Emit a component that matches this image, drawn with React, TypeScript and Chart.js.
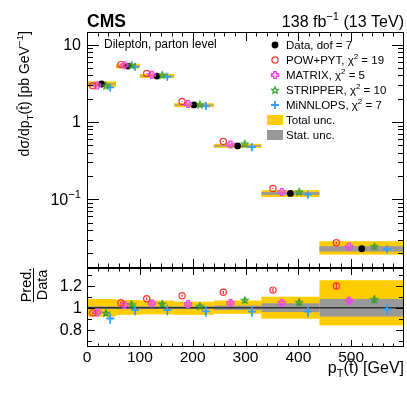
import React, { useEffect, useRef } from 'react';
import { Chart, registerables } from 'chart.js';
Chart.register(...registerables);

// ---------------- data ----------------
const binEdges = [0, 55, 100, 165, 240, 330, 440, 600];
const dataXsec = [3.1, 5.29, 3.93, 1.66, 0.49, 0.119, 0.0229];
const totalUncUp = [0.08, 0.07, 0.065, 0.055, 0.065, 0.1, 0.25];
const totalUncDown = [0.08, 0.065, 0.06, 0.065, 0.055, 0.1, 0.16];
const statUnc = [0.012, 0.012, 0.012, 0.012, 0.02, 0.04, 0.08];

const ratioPow = [0.952, 1.045, 1.082, 1.109, 1.14, 1.16, 1.197];
const ratioMatrix = [0.957, 1.025, 1.04, 1.034, 1.045, 1.045, 1.064];
const ratioStripper = [0.953, 1.031, 1.036, 1.015, 1.07, 1.05, 1.077];
const ratioMinnlo = [0.902, 0.979, 0.979, 0.967, 0.964, 0.964, 0.985];

const errPow = [0.01, 0.01, 0.01, 0.01, 0.015, 0.02, 0.03];
const errMatrix = [0.02, 0.02, 0.02, 0.02, 0.02, 0.02, 0.03];
const errStripper = [0.025, 0.025, 0.025, 0.025, 0.025, 0.03, 0.035];
const errMinnlo = [0.05, 0.05, 0.05, 0.05, 0.05, 0.05, 0.05];

const xTickValues = [0, 100, 200, 300, 400, 500];
const xTickLabels = ['0', '100', '200', '300', '400', '500'];
const mainTickValues = [0.1, 1, 10];
const mainTickBase = ['10', '1', '10'];
const mainTickExp = ['\u22121', '', ''];
const ratioTickValues = [0.8, 1, 1.2];
const ratioTickLabels = ['0.8', '1', '1.2'];

const legendNames = ['POW+PYT', 'MATRIX', 'STRIPPER', 'MiNNLOPS'];
const legendChi2 = ['19', '5', '10', '7'];
const dataLegend = 'Data, dof = 7';

// ---------------- layout / style ----------------
const FONT = '"Liberation Sans", Arial, Helvetica, sans-serif';
const W = 407;
const MAIN_H = 270;
const RATIO_TOP = 266;
const RATIO_H = 128;
const LEFT = 87;
const RIGHT_PAD = 3;
const YELLOW = '#ffcc00';
const GREY = '#999999';

const colors = ['#ff3333', '#ee44ee', '#2e9e2e', '#33a0ff'];
const offsets = [-0.3, -0.15, 0.15, 0.3];
const ratios = [ratioPow, ratioMatrix, ratioStripper, ratioMinnlo];
const errs = [errPow, errMatrix, errStripper, errMinnlo];

const centers = binEdges.slice(0, -1).map((e, i) => (e + binEdges[i + 1]) / 2);
const widths = binEdges.slice(0, -1).map((e, i) => binEdges[i + 1] - e);

function makeStar(color: string) {
  const c = document.createElement('canvas');
  c.width = 10; c.height = 10;
  const g = c.getContext('2d')!;
  g.strokeStyle = color; g.lineWidth = 1.2;
  g.beginPath();
  for (let k = 0; k < 10; k++) {
    const r = k % 2 === 0 ? 3.6 : 1.6;
    const a = -Math.PI / 2 + (k * Math.PI) / 5;
    const px = 5 + r * Math.cos(a), py = 5.4 + r * Math.sin(a);
    if (k) g.lineTo(px, py); else g.moveTo(px, py);
  }
  g.closePath(); g.stroke();
  return c;
}
function makeOpenCross(color: string) {
  const c = document.createElement('canvas');
  c.width = 10; c.height = 10;
  const g = c.getContext('2d')!;
  g.strokeStyle = color; g.lineWidth = 1.4;
  const a = 1.3, L = 3.4, o = 5;
  const pts = [[-a, -L], [a, -L], [a, -a], [L, -a], [L, a], [a, a], [a, L], [-a, L], [-a, a], [-L, a], [-L, -a], [-a, -a]];
  g.beginPath();
  pts.forEach((p, i) => (i ? g.lineTo(o + p[0], o + p[1]) : g.moveTo(o + p[0], o + p[1])));
  g.closePath(); g.stroke();
  return c;
}

type Part = { t: string; s?: number; dy?: number; bar?: boolean; bold?: boolean };
function drawRich(ctx: CanvasRenderingContext2D, parts: Part[], x: number, y: number, size: number, align: 'left' | 'right' | 'center') {
  const fontFor = (p: Part) => `${p.bold ? 'bold ' : ''}${(p.s ?? 1) * size}px ${FONT}`;
  let total = 0;
  const ws = parts.map((p) => { ctx.font = fontFor(p); const w = ctx.measureText(p.t).width; total += w; return w; });
  let cx = align === 'left' ? x : align === 'right' ? x - total : x - total / 2;
  ctx.textAlign = 'left';
  ctx.textBaseline = 'alphabetic';
  parts.forEach((p, i) => {
    ctx.font = fontFor(p);
    const yy = y + (p.dy ?? 0) * size;
    ctx.fillText(p.t, cx, yy);
    if (p.bar) {
      const s = (p.s ?? 1) * size;
      ctx.save();
      ctx.lineWidth = Math.max(1, s * 0.07);
      ctx.strokeStyle = ctx.fillStyle as string;
      ctx.beginPath();
      ctx.moveTo(cx + ws[i] * 0.05, yy - s * 0.86);
      ctx.lineTo(cx + ws[i] * 0.95, yy - s * 0.86);
      ctx.stroke();
      ctx.restore();
    }
    cx += ws[i];
  });
}

function drawFrameTicks(ctx: CanvasRenderingContext2D, chart: any, opts: { xMaj: number; xMin: number; yTicks: { v: number; len: number }[] }) {
  const a = chart.chartArea;
  const xs = chart.scales.x, ys = chart.scales.y;
  ctx.save();
  ctx.strokeStyle = '#000';
  ctx.lineWidth = 1;
  ctx.beginPath();
  for (let v = 0; v <= 600; v += 20) {
    const px = Math.round(xs.getPixelForValue(v)) + 0.5;
    if (px < a.left || px > a.right) continue;
    const len = v % 100 === 0 ? opts.xMaj : opts.xMin;
    ctx.moveTo(px, a.bottom); ctx.lineTo(px, a.bottom - len);
    ctx.moveTo(px, a.top); ctx.lineTo(px, a.top + len);
  }
  opts.yTicks.forEach((t) => {
    const py = Math.round(ys.getPixelForValue(t.v)) + 0.5;
    if (py < a.top || py > a.bottom) return;
    ctx.moveTo(a.left, py); ctx.lineTo(a.left + t.len, py);
    ctx.moveTo(a.right, py); ctx.lineTo(a.right - t.len, py);
  });
  ctx.stroke();
  ctx.strokeRect(a.left + 0.5, a.top + 0.5, a.right - a.left - 1, a.bottom - a.top - 1);
  ctx.restore();
}

function drawErrorBars(ctx: CanvasRenderingContext2D, chart: any, values: (s: number, i: number) => number, scaleErr: (v: number, e: number, up: boolean) => number) {
  const xs = chart.scales.x, ys = chart.scales.y;
  ctx.save();
  ctx.lineWidth = 1.3;
  ratios.forEach((_, s) => {
    ctx.strokeStyle = colors[s];
    ctx.beginPath();
    centers.forEach((c, i) => {
      const v = values(s, i);
      const px = xs.getPixelForValue(c + offsets[s] * widths[i]);
      ctx.moveTo(px, ys.getPixelForValue(scaleErr(v, errs[s][i], true)));
      ctx.lineTo(px, ys.getPixelForValue(scaleErr(v, errs[s][i], false)));
    });
    ctx.stroke();
  });
  ctx.restore();
}

export default function App() {
  const mainRef = useRef<HTMLCanvasElement>(null);
  const ratioRef = useRef<HTMLCanvasElement>(null);

  useEffect(() => {
    const starImg = makeStar(colors[2]);
    const crossImg = makeOpenCross(colors[1]);
    const pointStyles: any[] = ['circle', crossImg, starImg, 'cross'];
    const radii = [3.1, 4, 4, 4];
    const borders = [1.2, 1, 1, 1.8];

    const makeDatasets = (yOf: (s: number, i: number) => number) => {
      const ds: any[] = ratios.map((r, s) => ({
        label: legendNames[s],
        data: centers.map((c, i) => ({ x: c + offsets[s] * widths[i], y: yOf(s, i) })),
        pointStyle: pointStyles[s],
        pointRadius: radii[s],
        borderColor: colors[s],
        backgroundColor: 'rgba(0,0,0,0)',
        borderWidth: borders[s],
        showLine: false,
      }));
      return ds;
    };

    const mainDatasets = makeDatasets((s, i) => ratios[s][i] * dataXsec[i]);
    mainDatasets.push({
      label: 'Data',
      data: centers.map((c, i) => ({ x: c, y: dataXsec[i] })),
      pointStyle: 'circle', pointRadius: 3.4, borderWidth: 0,
      backgroundColor: '#000', borderColor: '#000', showLine: false,
    });

    const logTicks: { v: number; len: number }[] = [];
    for (let d = -2; d <= 1; d++) for (let k = 1; k <= 9; k++) logTicks.push({ v: k * Math.pow(10, d), len: k === 1 ? 12 : 6 });

    const mainPlugin = {
      id: 'mainDecor',
      beforeDatasetsDraw(chart: any) {
        const ctx = chart.ctx; const a = chart.chartArea;
        const xs = chart.scales.x, ys = chart.scales.y;
        ctx.save();
        ctx.beginPath(); ctx.rect(a.left, a.top, a.right - a.left, a.bottom - a.top); ctx.clip();
        centers.forEach((_, i) => {
          const x0 = xs.getPixelForValue(binEdges[i]), x1 = xs.getPixelForValue(binEdges[i + 1]);
          const d = dataXsec[i];
          let y0 = ys.getPixelForValue(d * (1 + totalUncUp[i])), y1 = ys.getPixelForValue(d * (1 - totalUncDown[i]));
          ctx.fillStyle = YELLOW; ctx.fillRect(x0, y0, x1 - x0, y1 - y0);
          y0 = ys.getPixelForValue(d * (1 + statUnc[i])); y1 = ys.getPixelForValue(d * (1 - statUnc[i]));
          ctx.fillStyle = GREY; ctx.fillRect(x0, y0, x1 - x0, Math.max(1, y1 - y0));
        });
        ctx.restore();
        drawErrorBars(ctx, chart, (s, i) => ratios[s][i] * dataXsec[i], (v, e, up) => (up ? v * (1 + e) : v * (1 - e)));
      },
      afterDatasetsDraw(chart: any) {
        const ctx = chart.ctx; const a = chart.chartArea;
        const ys = chart.scales.y;
        drawFrameTicks(ctx, chart, { xMaj: 9, xMin: 4.5, yTicks: logTicks });
        ctx.save();
        ctx.fillStyle = '#000';
        // y tick labels
        mainTickValues.forEach((v, i) => {
          const py = ys.getPixelForValue(v) + 5.5;
          const parts: Part[] = [{ t: mainTickBase[i] }];
          if (mainTickExp[i]) parts.push({ t: mainTickExp[i], s: 0.7, dy: -0.45 });
          drawRich(ctx, parts, 81, py, 16, 'right');
        });
        // y title
        ctx.save();
        ctx.translate(29, 31);
        ctx.rotate(-Math.PI / 2);
        drawRich(ctx, [
          { t: 'd\u03c3/dp' }, { t: 'T', s: 0.7, dy: 0.28 }, { t: '(' }, { t: 't', bar: true }, { t: ') [pb GeV' },
          { t: '\u22121', s: 0.7, dy: -0.42 }, { t: ']' },
        ], 0, 0, 14, 'right');
        ctx.restore();
        // header
        drawRich(ctx, [{ t: 'CMS', bold: true }], a.left, 27, 17.5, 'left');
        drawRich(ctx, [{ t: '138 fb' }, { t: '\u22121', s: 0.7, dy: -0.42 }, { t: ' (13 TeV)' }], 404, 27, 16, 'right');
        drawRich(ctx, [{ t: 'Dilepton, parton level' }], 104, 48, 12, 'left');
        // legend
        const lx = 275, tx = 286, fs = 11.5;
        const rows = [45, 60, 75, 90, 105, 120, 135];
        ctx.fillStyle = '#000';
        ctx.beginPath(); ctx.arc(lx, rows[0], 3.4, 0, Math.PI * 2); ctx.fill();
        drawRich(ctx, [{ t: dataLegend }], tx, rows[0] + 4.2, fs, 'left');
        legendNames.forEach((n, s) => {
          const y = rows[s + 1];
          if (s === 0) {
            ctx.save(); ctx.strokeStyle = colors[0]; ctx.lineWidth = 1.2;
            ctx.beginPath(); ctx.arc(lx, y, 3.1, 0, Math.PI * 2); ctx.stroke(); ctx.restore();
          } else if (s === 1) ctx.drawImage(crossImg, lx - 5, y - 5);
          else if (s === 2) ctx.drawImage(starImg, lx - 5, y - 5);
          else {
            ctx.save(); ctx.strokeStyle = colors[3]; ctx.lineWidth = 1.8;
            ctx.beginPath(); ctx.moveTo(lx - 4, y); ctx.lineTo(lx + 4, y); ctx.moveTo(lx, y - 4); ctx.lineTo(lx, y + 4); ctx.stroke(); ctx.restore();
          }
          ctx.fillStyle = '#000';
          drawRich(ctx, [{ t: n + ', \u03c7' }, { t: '2', s: 0.7, dy: -0.42 }, { t: ' = ' + legendChi2[s] }], tx, y + 4.2, fs, 'left');
        });
        ctx.fillStyle = YELLOW; ctx.fillRect(267, rows[5] - 5, 16, 10);
        ctx.fillStyle = GREY; ctx.fillRect(267, rows[6] - 5, 16, 10);
        ctx.fillStyle = '#000';
        drawRich(ctx, [{ t: 'Total unc.' }], tx, rows[5] + 4.2, fs, 'left');
        drawRich(ctx, [{ t: 'Stat. unc.' }], tx, rows[6] + 4.2, fs, 'left');
        ctx.restore();
      },
    };

    const ratioTicks: { v: number; len: number }[] = [];
    [0.7, 0.8, 0.9, 1.0, 1.1, 1.2, 1.3].forEach((v, k) => ratioTicks.push({ v, len: k % 2 === 1 ? 8 : 5 }));

    const ratioPlugin = {
      id: 'ratioDecor',
      beforeDatasetsDraw(chart: any) {
        const ctx = chart.ctx; const a = chart.chartArea;
        const xs = chart.scales.x, ys = chart.scales.y;
        ctx.save();
        ctx.beginPath(); ctx.rect(a.left, a.top, a.right - a.left, a.bottom - a.top); ctx.clip();
        centers.forEach((_, i) => {
          const x0 = xs.getPixelForValue(binEdges[i]), x1 = xs.getPixelForValue(binEdges[i + 1]);
          let y0 = ys.getPixelForValue(1 + totalUncUp[i]), y1 = ys.getPixelForValue(1 - totalUncDown[i]);
          ctx.fillStyle = YELLOW; ctx.fillRect(x0, y0, x1 - x0, y1 - y0);
          y0 = ys.getPixelForValue(1 + statUnc[i]); y1 = ys.getPixelForValue(1 - statUnc[i]);
          ctx.fillStyle = GREY; ctx.fillRect(x0, y0, x1 - x0, y1 - y0);
        });
        const y1px = ys.getPixelForValue(1);
        ctx.strokeStyle = '#333'; ctx.lineWidth = 1.6;
        ctx.beginPath(); ctx.moveTo(a.left, y1px); ctx.lineTo(a.right, y1px); ctx.stroke();
        ctx.restore();
        drawErrorBars(ctx, chart, (s, i) => ratios[s][i], (v, e, up) => (up ? v + e : v - e));
      },
      afterDatasetsDraw(chart: any) {
        const ctx = chart.ctx;
        const xs = chart.scales.x, ys = chart.scales.y;
        drawFrameTicks(ctx, chart, { xMaj: 7, xMin: 3.5, yTicks: ratioTicks });
        ctx.save();
        ctx.fillStyle = '#000';
        ratioTickValues.forEach((v, i) => {
          drawRich(ctx, [{ t: ratioTickLabels[i] }], 82, ys.getPixelForValue(v) + 5.7, 16, 'right');
        });
        xTickValues.forEach((v, i) => {
          drawRich(ctx, [{ t: xTickLabels[i] }], xs.getPixelForValue(v), 362 - RATIO_TOP, 15.5, 'center');
        });
        drawRich(ctx, [
          { t: 'p' }, { t: 'T', s: 0.7, dy: 0.28 }, { t: '(' }, { t: 't', bar: true }, { t: ') [GeV]' },
        ], 404, 373 - RATIO_TOP, 16, 'right');
        // ratio y title
        ctx.save();
        ctx.translate(0, 285 - RATIO_TOP);
        ctx.rotate(-Math.PI / 2);
        drawRich(ctx, [{ t: 'Pred.' }], 0, 30.5, 14.5, 'center');
        ctx.strokeStyle = '#000'; ctx.lineWidth = 1;
        ctx.beginPath(); ctx.moveTo(-17, 33.5); ctx.lineTo(17, 33.5); ctx.stroke();
        drawRich(ctx, [{ t: 'Data' }], 0, 47, 14.5, 'center');
        ctx.restore();
        ctx.restore();
      },
    };

    const baseOpts = (yScale: any, padTop: number, padBottom: number) => ({
      responsive: false,
      maintainAspectRatio: false,
      animation: false as const,
      devicePixelRatio: 1,
      events: [] as any[],
      layout: { autoPadding: false, padding: { left: LEFT, right: RIGHT_PAD, top: padTop, bottom: padBottom } },
      plugins: { legend: { display: false }, tooltip: { enabled: false }, title: { display: false } },
      scales: {
        x: { type: 'linear' as const, min: 0, max: 600, display: false },
        y: yScale,
      },
    });

    const mainChart = new Chart(mainRef.current!, {
      type: 'scatter',
      data: { datasets: mainDatasets },
      options: baseOpts({ type: 'logarithmic', min: 0.0129, max: 14.6, display: false }, 32, MAIN_H - 268) as any,
      plugins: [mainPlugin],
    });

    const ratioChart = new Chart(ratioRef.current!, {
      type: 'scatter',
      data: { datasets: makeDatasets((s, i) => ratios[s][i]) },
      options: baseOpts({ type: 'linear', min: 0.643, max: 1.361, display: false }, 268 - RATIO_TOP, RATIO_H - (347 - RATIO_TOP)) as any,
      plugins: [ratioPlugin],
    });

    return () => { mainChart.destroy(); ratioChart.destroy(); };
  }, []);

  return (
    <div style={{ position: 'absolute', left: 0, top: 0, width: W, height: 394, background: '#fff' }}>
      <canvas ref={mainRef} width={W} height={MAIN_H} style={{ position: 'absolute', left: 0, top: 0, width: W, height: MAIN_H }} />
      <canvas ref={ratioRef} width={W} height={RATIO_H} style={{ position: 'absolute', left: 0, top: RATIO_TOP, width: W, height: RATIO_H }} />
    </div>
  );
}
